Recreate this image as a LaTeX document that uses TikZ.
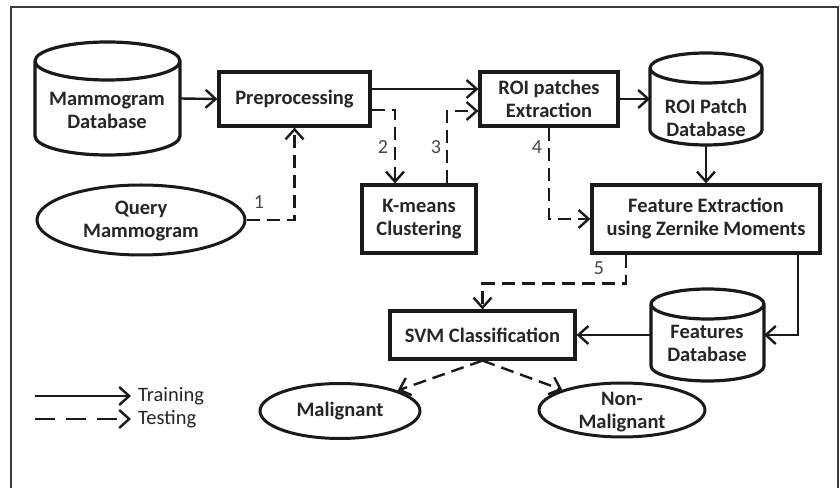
\documentclass[tikz,border=0pt]{standalone}
\usepackage{fontspec}
\setmainfont{Carlito}
\usetikzlibrary{arrows.meta,shapes.geometric,calc}
\definecolor{ink}{HTML}{1A1A1A}
\definecolor{txt}{HTML}{262626}
\definecolor{lbltxt}{HTML}{484848}
\newcommand\drawdb[2]{%
  \draw[dbline] let \p1=(#1.north west), \p2=(#1.south east), \n1={(\x2-\x1)/2} in
    (\x1,\y1-#2pt) -- (\x1,\y2+#2pt)
    arc[start angle=180,end angle=360,x radius=\n1,y radius=#2pt]
    -- (\x2,\y1-#2pt)
    arc[start angle=0,end angle=180,x radius=\n1,y radius=#2pt] -- cycle
    (\x1,\y1-#2pt) arc[start angle=180,end angle=360,x radius=\n1,y radius=#2pt];
}
\begin{document}
\begin{tikzpicture}[x=1pt,y=1pt,
  bfnt/.style={font=\bfseries\fontsize{20.5}{23}\selectfont, text=txt, align=center},
  box/.style={bfnt, draw=ink, line width=3.2pt, inner sep=0pt},
  ell/.style={ellipse, draw=ink, line width=3pt, inner sep=0pt},
  etext/.style={bfnt, inner sep=0pt},
  dbshape/.style={draw=none, inner sep=0pt, outer sep=0pt},
  dbline/.style={draw=ink, line width=3.2pt, line join=round},
  dbtext/.style={bfnt, inner sep=0pt},
  train/.style={draw=ink, line width=2.4pt, -{Straight Barb[length=10pt,width=18pt,line width=2.4pt]}},
  test/.style={train, dash pattern=on 13pt off 7pt},
  legtest/.style={train, dash pattern=on 20pt off 11pt},
  lbl/.style={font=\fontsize{20}{23}\selectfont, text=lbltxt, inner sep=0pt},
  legtxt/.style={font=\fontsize{20.5}{23}\selectfont, text=txt, inner sep=0pt, anchor=west},
  frame/.style={draw=ink!85, line width=2.8pt}
]
\useasboundingbox (0,0) rectangle (840,487);
\clip (0,0) rectangle (840,487);
\fill[white] (0,0) rectangle (840,487);
\draw[frame] (11,-10) -- (11,480) -- (838,480) -- (838,-10);

% databases
\node[dbshape, minimum width=145pt, minimum height=113pt] (mdb) at (107.5,388.5) {};
\drawdb{mdb}{19}
\node[dbtext] (mdbt) at (107,377) {Mammogram\\Database};

\node[dbshape, minimum width=112pt, minimum height=92pt] (rpdb) at (706,388) {};
\drawdb{rpdb}{15}
\node[dbtext] (rpdbt) at (706,369) {ROI Patch\\Database};

\node[dbshape, minimum width=113pt, minimum height=92pt] (fdb) at (707.5,152) {};
\drawdb{fdb}{15}
\node[dbtext] (fdbt) at (707,144) {Features\\Database};

% boxes
\node[box, minimum width=151pt, minimum height=54pt] (pre) at (294.5,388) {Preprocessing};
\node[box, minimum width=138pt, minimum height=54pt] (roi) at (549,388) {ROI patches\\Extraction};
\node[box, minimum width=114pt, minimum height=68pt] (km) at (419,268) {K-means\\Clustering};
\node[box, minimum width=228pt, minimum height=68pt] (fe) at (706,268) {Feature Extraction\\using Zernike Moments};
\node[box, minimum width=185pt, minimum height=48pt] (svm) at (482.5,152) {SVM Classification};

% ellipses
\node[ell, minimum width=208pt, minimum height=70pt] (qm) at (141,267) {};
\node[etext] (qmt) at (141,266) {Query\\Mammogram};
\node[ell, minimum width=160pt, minimum height=55pt] (mal) at (340,76) {};
\node[etext] (malt) at (340,76) {Malignant};
\node[ell, minimum width=166pt, minimum height=54pt] (nm) at (622,77) {};
\node[etext] (nmt) at (622,75) {Non-\\Malignant};

% training connectors
\draw[train] (mdb.east) -- (pre.west);
\draw[train] ([yshift=10pt]pre.east) -- ([yshift=10pt]roi.west);
\draw[train] (roi.east) -- (rpdb.west);
\draw[train] (rpdb.south) -- (fe.north);
\draw[train] ([xshift=92pt]fe.south) |- (fdb.east);
\draw[train] (fdb.west) -- (svm.east);

% testing connectors
\draw[test] (qm.east) -| (pre.south);
\draw[test] ([yshift=-11pt]pre.east) -| ([xshift=-24pt]km.north);
\draw[test] ([xshift=28pt]km.north) |- ([yshift=-12pt]roi.west);
\draw[test] (roi.south) |- (fe.west);
\draw[test] ([xshift=-80pt]fe.south) -- ++(0,-29) -| (svm.north);
\draw[test] (svm.south) -- (mal.north east);
\draw[test] (svm.south) -- (nm.north west);

% step labels
\node[lbl] (l1) at (259,285) {1};
\node[lbl] (l2) at (383,340) {2};
\node[lbl] (l3) at (436,340) {3};
\node[lbl] (l4) at (537,340) {4};
\node[lbl] (l5) at (599,219) {5};

% legend
\coordinate (lg1) at (35,91);
\coordinate (lg2) at (35,68);
\node[legtxt] (ltr) at (138,91) {Training};
\node[legtxt] (lte) at (138,68) {Testing};
\draw[train] (lg1) -- ([xshift=-7pt]ltr.west);
\draw[legtest] (lg2) -- ([xshift=-7pt]lte.west);
\end{tikzpicture}
\end{document}
